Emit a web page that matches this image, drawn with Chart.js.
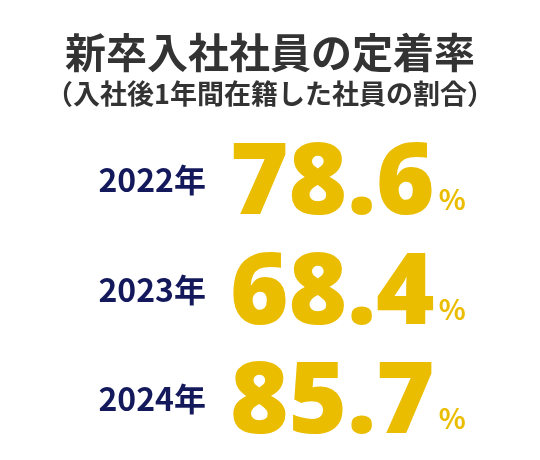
<!DOCTYPE html>
<html>
<head>
<meta charset="utf-8">
<script src="https://cdn.jsdelivr.net/npm/chart.js@4"></script>
<style>
  body { margin: 0; background: #fff; }
</style>
</head>
<body>
<canvas id="c" width="540" height="460"></canvas>
<script>
const years = ['2022', '2023', '2024'];
const rates = [78.6, 68.4, 85.7];

const FONT = '"Noto Sans CJK JP", "Noto Sans", sans-serif';
const NUMFONT = '"Open Sans", "Noto Sans", sans-serif';

// draws the year label and the big percentage for each row
const rowText = {
    id: 'rowText',
    afterDatasetsDraw(chart) {
        const ctx = chart.ctx;
        const y = chart.scales.y;
        ctx.save();
        ctx.textBaseline = 'alphabetic';
        years.forEach((yr, i) => {
            const py = y.getPixelForValue(i);
            ctx.fillStyle = '#14195c';
            ctx.font = 'bold 32px ' + FONT;
            ctx.textAlign = 'right';
            ctx.fillText(yr + '年', 206, py + 14);

            ctx.fillStyle = '#ebbd00';
            ctx.font = '800 100px ' + NUMFONT;
            ctx.textAlign = 'left';
            const txt = rates[i].toFixed(1);
            ctx.fillText(txt, 230, py + 36);
            const w = ctx.measureText(txt).width;
            ctx.font = 'bold 28px ' + FONT;
            ctx.fillText('%', 230 + w + 4, py + 32);
        });
        ctx.restore();
    }
};

new Chart(document.getElementById('c').getContext('2d'), {
    type: 'bar',
    data: {
        labels: years,
        datasets: [{
            data: rates,
            backgroundColor: 'rgba(0,0,0,0)'
        }]
    },
    options: {
        indexAxis: 'y',
        responsive: false,
        animation: false,
        layout: { padding: { bottom: 8 } },
        scales: {
            x: { display: false, min: 0, max: 100 },
            y: { display: false }
        },
        plugins: {
            legend: { display: false },
            tooltip: { enabled: false },
            title: {
                display: true,
                text: '新卒入社社員の定着率',
                color: '#333',
                font: { family: FONT, size: 41, weight: 'bold' },
                padding: { top: 28, bottom: 0 }
            },
            subtitle: {
                display: true,
                text: '（入社後1年間在籍した社員の割合）',
                color: '#333',
                font: { family: FONT, size: 27, weight: 'bold' },
                padding: { bottom: 14 }
            }
        }
    },
    plugins: [rowText]
});
</script>
</body>
</html>
